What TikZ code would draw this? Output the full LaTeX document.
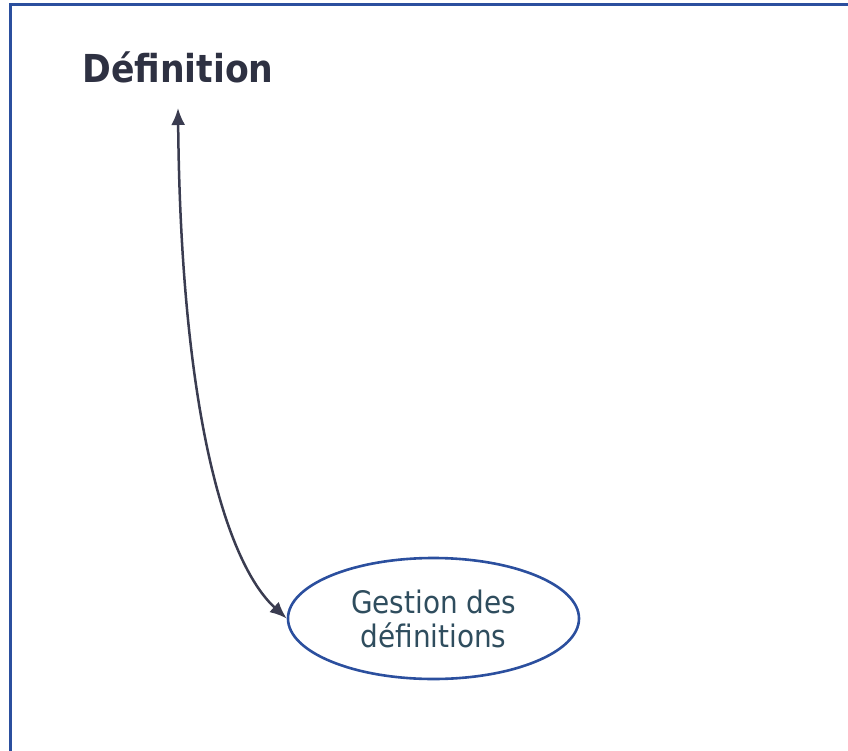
\documentclass[tikz,border=0pt]{standalone}
\usepackage{fontspec}
\setmainfont{DejaVu Sans}
\newfontfamily\condfont{DejaVu Sans Condensed}
\usetikzlibrary{arrows.meta,shapes.geometric}
\definecolor{framecol}{HTML}{2B4F9E}
\definecolor{titlecol}{HTML}{2E3142}
\definecolor{labelcol}{HTML}{2F4D5E}
\definecolor{arrowcol}{HTML}{3A3C50}
\tikzset{
  frameline/.style={draw=framecol, line width=3pt},
  titletext/.style={text=titlecol, font=\condfont\bfseries\fontsize{38.5}{42}\selectfont, inner sep=0pt},
  usecase/.style={ellipse, draw=framecol, line width=2.6pt, fill=white,
    minimum width=291pt, minimum height=121pt, inner sep=0pt,
    text=labelcol, align=center, font=\condfont\fontsize{31}{34}\selectfont},
  link/.style={draw=arrowcol, line width=2.5pt,
    {Latex[length=17pt,width=14pt]}-{Latex[length=17pt,width=14pt]}}
}
\begin{document}
\begin{tikzpicture}[x=1pt,y=-1pt]
  \useasboundingbox (0,0) rectangle (848,751);
  % outer frame, running past the right and bottom edges
  \draw[frameline] (10,760) -- (10,4.5) -- (860,4.5);
  % title and use case
  \node[titletext, anchor=base] (def) at (178,83) {Définition};
  \node[usecase] (gest) at (433.5,618.5) {Gestion des\\définitions};
  \coordinate (deftip) at ([yshift=-25pt]def.base);
  \draw[link] (deftip) .. controls (181,420) and (228,565) .. (gest.west);
\end{tikzpicture}
\end{document}
